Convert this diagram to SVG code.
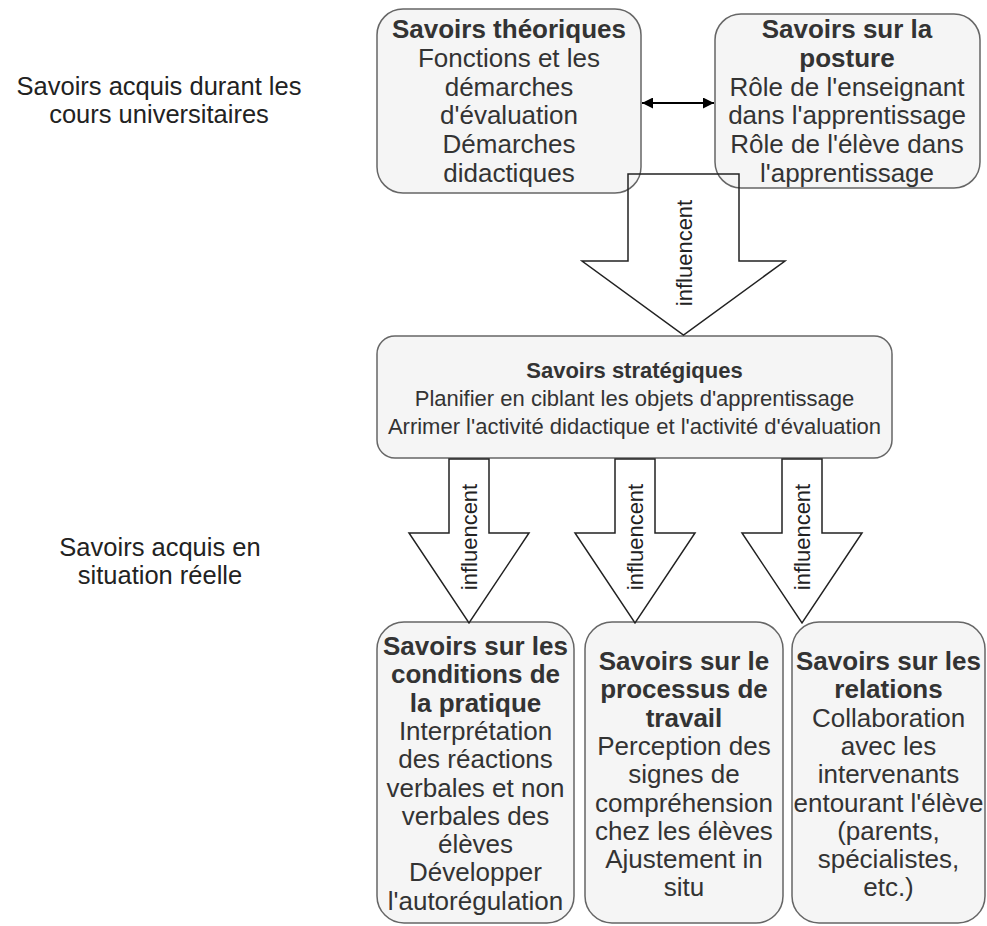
<svg xmlns="http://www.w3.org/2000/svg" width="987" height="926" viewBox="0 0 987 926">
<style>
.box{fill:#f5f5f5;stroke:#666;stroke-width:1.5}
.arr{fill:none;stroke:#222;stroke-width:1.5;stroke-linejoin:miter}
.sarr{fill:#fff;stroke:#222;stroke-width:1.5}
text{font-family:"Liberation Sans",Arial,Helvetica,sans-serif;fill:#333;text-anchor:middle}
.t{font-size:26px}
.s{font-size:22px}
.b{font-weight:bold}
.lab{font-size:25.5px;fill:#222}
.inf{font-size:22px;fill:#222}
</style>
<defs>
<marker id="ah" viewBox="0 0 10 10" refX="10" refY="5" markerWidth="6.5" markerHeight="5.5" orient="auto-start-reverse" markerUnits="strokeWidth">
<path d="M0,0 L10,5 L0,10 Z" fill="#000"/>
</marker>
</defs>
<rect width="987" height="926" fill="#fff"/>

<g id="label-cours">
<text class="lab" x="159" y="95">Savoirs acquis durant les</text>
<text class="lab" x="159" y="123">cours universitaires</text>
</g>
<g id="label-situation">
<text class="lab" x="160" y="556">Savoirs acquis en</text>
<text class="lab" x="160" y="584">situation réelle</text>
</g>

<g id="savoirs-theoriques">
<rect class="box" x="377" y="9" width="264" height="184" rx="26"/>
<text class="t" x="509"><tspan class="b" x="509" y="38">Savoirs théoriques</tspan><tspan x="509" y="66.8">Fonctions et les</tspan><tspan x="509" y="95.6">démarches</tspan><tspan x="509" y="124.4">d'évaluation</tspan><tspan x="509" y="153.2">Démarches</tspan><tspan x="509" y="182">didactiques</tspan></text>
</g>

<g id="savoirs-posture">
<rect class="box" x="715" y="14" width="265" height="174" rx="26"/>
<text class="t" x="847"><tspan class="b" x="847" y="38">Savoirs sur la</tspan><tspan class="b" x="847" y="66.8">posture</tspan><tspan x="847" y="95.6">Rôle de l'enseignant</tspan><tspan x="847" y="124.4">dans l'apprentissage</tspan><tspan x="847" y="153.2">Rôle de l'élève dans</tspan><tspan x="847" y="182">l'apprentissage</tspan></text>
</g>

<g id="savoirs-strategiques">
<rect class="box" x="377" y="336" width="515" height="122" rx="18"/>
<text class="s" x="634.5"><tspan class="b" x="634.5" y="378">Savoirs stratégiques</tspan><tspan x="634.5" y="406">Planifier en ciblant les objets d'apprentissage</tspan><tspan x="634.5" y="434">Arrimer l'activité didactique et l'activité d'évaluation</tspan></text>
</g>

<g id="savoirs-conditions">
<rect class="box" x="377" y="622" width="197" height="301" rx="27"/>
<text class="t" x="475.5"><tspan class="b" x="475.5" y="655">Savoirs sur les</tspan><tspan class="b" x="475.5" y="683.3">conditions de</tspan><tspan class="b" x="475.5" y="711.6">la pratique</tspan><tspan x="475.5" y="739.9">Interprétation</tspan><tspan x="475.5" y="768.2">des réactions</tspan><tspan x="475.5" y="796.5">verbales et non</tspan><tspan x="475.5" y="824.8">verbales des</tspan><tspan x="475.5" y="853.1">élèves</tspan><tspan x="475.5" y="881.4">Développer</tspan><tspan x="475.5" y="909.7">l'autorégulation</tspan></text>
</g>

<g id="savoirs-processus">
<rect class="box" x="585" y="622" width="198" height="301" rx="27"/>
<text class="t" x="684"><tspan class="b" x="684" y="670">Savoirs sur le</tspan><tspan class="b" x="684" y="698.3">processus de</tspan><tspan class="b" x="684" y="726.6">travail</tspan><tspan x="684" y="754.9">Perception des</tspan><tspan x="684" y="783.2">signes de</tspan><tspan x="684" y="811.5">compréhension</tspan><tspan x="684" y="839.8">chez les élèves</tspan><tspan x="684" y="868.1">Ajustement in</tspan><tspan x="684" y="896.4">situ</tspan></text>
</g>

<g id="savoirs-relations">
<rect class="box" x="792" y="622" width="193" height="301" rx="27"/>
<text class="t" x="888.5"><tspan class="b" x="888.5" y="670">Savoirs sur les</tspan><tspan class="b" x="888.5" y="698.3">relations</tspan><tspan x="888.5" y="726.6">Collaboration</tspan><tspan x="888.5" y="754.9">avec les</tspan><tspan x="888.5" y="783.2">intervenants</tspan><tspan x="888.5" y="811.5">entourant l'élève</tspan><tspan x="888.5" y="839.8">(parents,</tspan><tspan x="888.5" y="868.1">spécialistes,</tspan><tspan x="888.5" y="896.4">etc.)</tspan></text>
</g>

<g id="connectors">
<line x1="642" y1="103" x2="714" y2="103" stroke="#000" stroke-width="2" marker-start="url(#ah)" marker-end="url(#ah)"/>
<g id="arrow-top">
<polygon class="arr" points="628,174 739,174 739,261 785,261 683.5,335 582,261 628,261"/>
<text class="inf" transform="translate(683.5,253) rotate(-90)" x="0" y="8">influencent</text>
</g>
<g id="arrow-1">
<polygon class="sarr" points="449,459 489,459 489,533 529,533 469,623 409,533 449,533"/>
<text class="inf" transform="translate(469,537) rotate(-90)" x="0" y="8">influencent</text>
</g>
<g id="arrow-2">
<polygon class="sarr" points="615,459 655,459 655,533 695,533 635,623 575,533 615,533"/>
<text class="inf" transform="translate(635,537) rotate(-90)" x="0" y="8">influencent</text>
</g>
<g id="arrow-3">
<polygon class="sarr" points="782,459 822,459 822,533 862,533 802,623 742,533 782,533"/>
<text class="inf" transform="translate(802,537) rotate(-90)" x="0" y="8">influencent</text>
</g>
</g>
</svg>
